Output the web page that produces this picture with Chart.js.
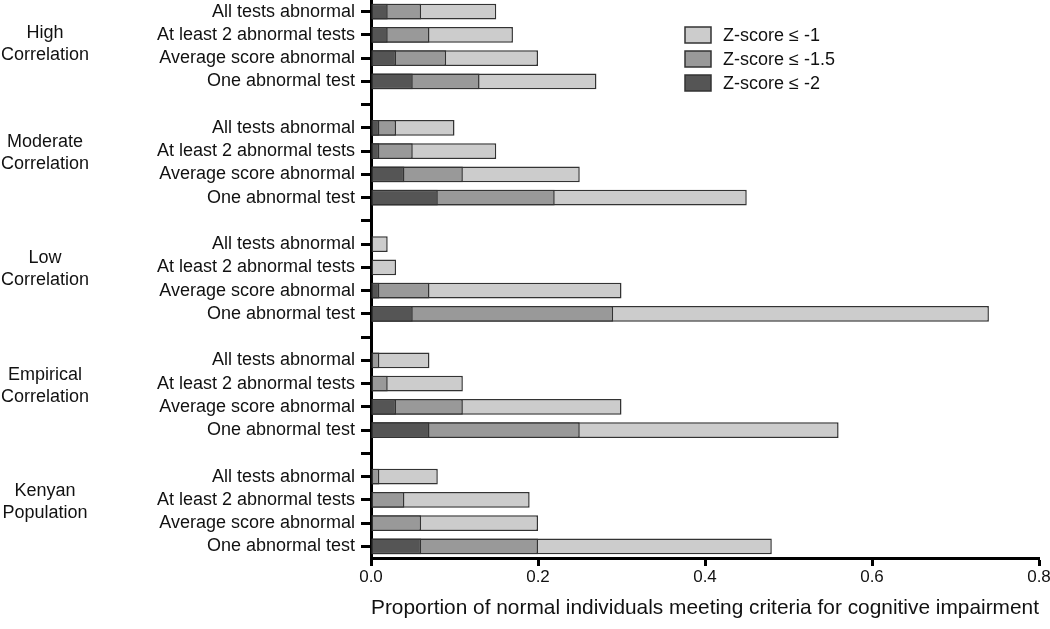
<!DOCTYPE html>
<html>
<head>
<meta charset="utf-8">
<script src="https://cdn.jsdelivr.net/npm/chart.js@4.4.1/dist/chart.umd.min.js"></script>
<style>
  html, body { margin: 0; padding: 0; background: #fff; }
  #wrap { width: 1050px; height: 629px; }
</style>
</head>
<body>
<div id="wrap"><canvas id="chart" width="1050" height="629"></canvas></div>
<script>
// Groups, criteria and the three Z-score thresholds
const groupNames = [
  ["High", "Correlation"],
  ["Moderate", "Correlation"],
  ["Low", "Correlation"],
  ["Empirical", "Correlation"],
  ["Kenyan", "Population"]
];
const criteria = ["All tests abnormal", "At least 2 abnormal tests", "Average score abnormal", "One abnormal test"];

const zMinus1   = [[0.15, 0.17, 0.20, 0.27], [0.10, 0.15, 0.25, 0.45], [0.02, 0.03, 0.30, 0.74], [0.07, 0.11, 0.30, 0.56], [0.08, 0.19, 0.20, 0.48]];
const zMinus15  = [[0.06, 0.07, 0.09, 0.13], [0.03, 0.05, 0.11, 0.22], [null, null, 0.07, 0.29], [0.01, 0.02, 0.11, 0.25], [0.01, 0.04, 0.06, 0.20]];
const zMinus2   = [[0.02, 0.02, 0.03, 0.05], [0.01, 0.01, 0.04, 0.08], [null, null, 0.01, 0.05], [null, null, 0.03, 0.07], [null, null, null, 0.06]];

const xTicks = [0, 0.2, 0.4, 0.6, 0.8];

const seriesNames  = ["Z-score \u2264 -2", "Z-score \u2264 -1.5", "Z-score \u2264 -1"];
const seriesColors = ["#555555", "#999999", "#cccccc"];

/* ---- flatten groups into one category axis, blank slot between groups ---- */
const labels = [];
const groupFirstIndex = [];
groupNames.forEach((g, i) => {
  groupFirstIndex.push(labels.length);
  criteria.forEach(c => labels.push(c));
  if (i < groupNames.length - 1) labels.push("");
});

function flatten(rows) {
  const out = [];
  rows.forEach((r, i) => {
    r.forEach(v => out.push(v));
    if (i < rows.length - 1) out.push(null);
  });
  return out;
}

const FONT = "'Liberation Sans', Arial, sans-serif";

/* ---- group labels on the far left ---- */
const groupLabelPlugin = {
  id: "groupLabels",
  afterDraw(chart) {
    const ctx = chart.ctx;
    const y = chart.scales.y;
    ctx.save();
    ctx.font = "18px " + FONT;
    ctx.fillStyle = "#111";
    ctx.textAlign = "center";
    ctx.textBaseline = "middle";
    groupNames.forEach((lines, i) => {
      // first group sits a little lower in the original
      const cy = y.getPixelForValue(groupFirstIndex[i] + 1) + (i === 0 ? 9 : 2);
      ctx.fillText(lines[0], 45, cy - 11);
      ctx.fillText(lines[1], 45, cy + 11);
    });
    ctx.restore();
  }
};

/* ---- legend box in the top right ---- */
const legendPlugin = {
  id: "boxLegend",
  afterDraw(chart) {
    const ctx = chart.ctx;
    ctx.save();
    ctx.font = "18px " + FONT;
    ctx.textBaseline = "middle";
    ctx.textAlign = "left";
    for (let k = 0; k < 3; k++) {
      const s = 2 - k;           // light first, dark last
      const cy = 35 + k * 24;
      ctx.fillStyle = seriesColors[s];
      ctx.fillRect(685, cy - 8, 26, 16);
      ctx.strokeStyle = "#333";
      ctx.lineWidth = 1.5;
      ctx.strokeRect(685, cy - 8, 26, 16);
      ctx.fillStyle = "#111";
      ctx.fillText(seriesNames[s], 723, cy + 1);
    }
    ctx.restore();
  }
};

const datasets = [zMinus2, zMinus15, zMinus1].map((rows, i) => ({
  label: seriesNames[i],
  data: flatten(rows),
  backgroundColor: seriesColors[i],
  borderColor: "#333",
  borderWidth: 1.5,
  borderSkipped: false,
  grouped: false,
  barPercentage: 0.68,
  categoryPercentage: 1
}));

new Chart(document.getElementById("chart"), {
  type: "bar",
  data: { labels, datasets },
  options: {
    indexAxis: "y",
    responsive: false,
    animation: false,
    layout: { padding: { left: 0, right: 11, top: 0, bottom: 0 } },
    plugins: {
      legend: { display: false },
      tooltip: { enabled: false }
    },
    scales: {
      x: {
        min: 0,
        max: 0.8,
        afterBuildTicks: s => { s.ticks = xTicks.map(v => ({ value: v })); },
        afterFit: s => { s.height = 71; s.paddingLeft = 0; s.paddingRight = 0; },
        ticks: {
          callback: v => Number(v).toFixed(1),
          font: { size: 17, family: FONT },
          color: "#111",
          padding: 1
        },
        grid: { drawOnChartArea: false, drawTicks: true, tickLength: 8, tickWidth: 3, tickColor: "#000" },
        border: { display: true, width: 3, color: "#000" },
        title: {
          display: true,
          text: "Proportion of normal individuals meeting criteria for cognitive impairment",
          font: { size: 21, family: FONT },
          color: "#111",
          padding: { top: 0, bottom: 8 }
        }
      },
      y: {
        afterFit: s => { s.width = 371; s.paddingTop = 0; s.paddingBottom = 0; },
        ticks: {
          autoSkip: false,
          font: { size: 18, family: FONT },
          color: "#111",
          padding: 6
        },
        grid: { offset: false, drawOnChartArea: false, drawTicks: true, tickLength: 10, tickWidth: 3, tickColor: "#000" },
        border: { display: true, width: 3, color: "#000" }
      }
    }
  },
  plugins: [groupLabelPlugin, legendPlugin]
});
</script>
</body>
</html>
